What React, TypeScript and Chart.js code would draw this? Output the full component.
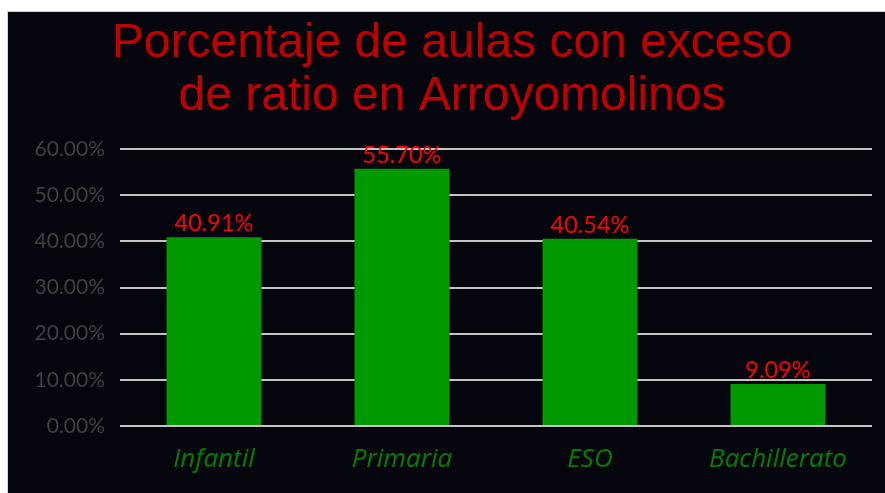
import React, { useEffect, useRef } from "react";
import { Chart, registerables } from "chart.js";

Chart.register(...registerables);

const categories = ["Infantil", "Primaria", "ESO", "Bachillerato"];
const values = [40.91, 55.7, 40.54, 9.09];
const titleLines = ["Porcentaje de aulas con exceso", "de ratio en Arroyomolinos"];
const yMax = 60;
const yStep = 10;

const valueLabels = {
  id: "valueLabels",
  afterDatasetsDraw(chart: any) {
    const ctx = chart.ctx;
    const meta = chart.getDatasetMeta(0);
    ctx.save();
    ctx.fillStyle = "#ff0000";
    ctx.font = "23.5px Lato";
    ctx.textAlign = "center";
    ctx.textBaseline = "alphabetic";
    meta.data.forEach((bar: any, i: number) => {
      ctx.fillText(values[i].toFixed(2) + "%", bar.x, bar.y - 6);
    });
    ctx.restore();
  },
};

export default function App() {
  const ref = useRef<HTMLCanvasElement | null>(null);
  useEffect(() => {
    if (!ref.current) return;
    const chart = new Chart(ref.current, {
      type: "bar",
      data: {
        labels: categories,
        datasets: [
          {
            data: values,
            backgroundColor: "#009900",
            barPercentage: 0.505,
            categoryPercentage: 1,
          },
        ],
      },
      options: {
        responsive: false,
        animation: false,
        devicePixelRatio: 1,
        layout: { padding: { left: 24, right: 13, top: 0, bottom: 0 } },
        plugins: {
          legend: { display: false },
          tooltip: { enabled: false },
          title: {
            display: true,
            text: titleLines,
            color: "#c00000",
            font: { family: "'Liberation Sans', Arial", size: 48, weight: "normal", lineHeight: 53 / 48 },
            padding: { top: 5, bottom: 26 },
          },
        },
        scales: {
          x: {
            grid: { display: false, drawTicks: false },
            border: { display: false },
            ticks: {
              color: "#008000",
              font: { family: "'Open Sans'", size: 26, style: "italic" },
              padding: 18,
            },
            afterFit(scale: any) {
              scale.height = 67;
            },
          },
          y: {
            min: 0,
            max: yMax,
            grid: { color: "#c4c4c4", lineWidth: 2, drawTicks: false },
            border: { display: false },
            ticks: {
              stepSize: yStep,
              color: "#404040",
              font: { family: "Lato", size: 21 },
              padding: 15,
              callback: (v: any) => Number(v).toFixed(2) + "%",
            },
            afterFit(scale: any) {
              scale.width = 88;
            },
          },
        },
      },
      plugins: [valueLabels],
    });
    return () => chart.destroy();
  }, []);

  return (
    <div
      style={{
        position: "fixed",
        left: 7,
        top: 11,
        width: 900,
        height: 500,
        border: "1px solid #d4d4d4",
        background: "#05050d",
      }}
    >
      <canvas ref={ref} width={877} height={481} style={{ display: "block", width: 877, height: 481 }} />
    </div>
  );
}
